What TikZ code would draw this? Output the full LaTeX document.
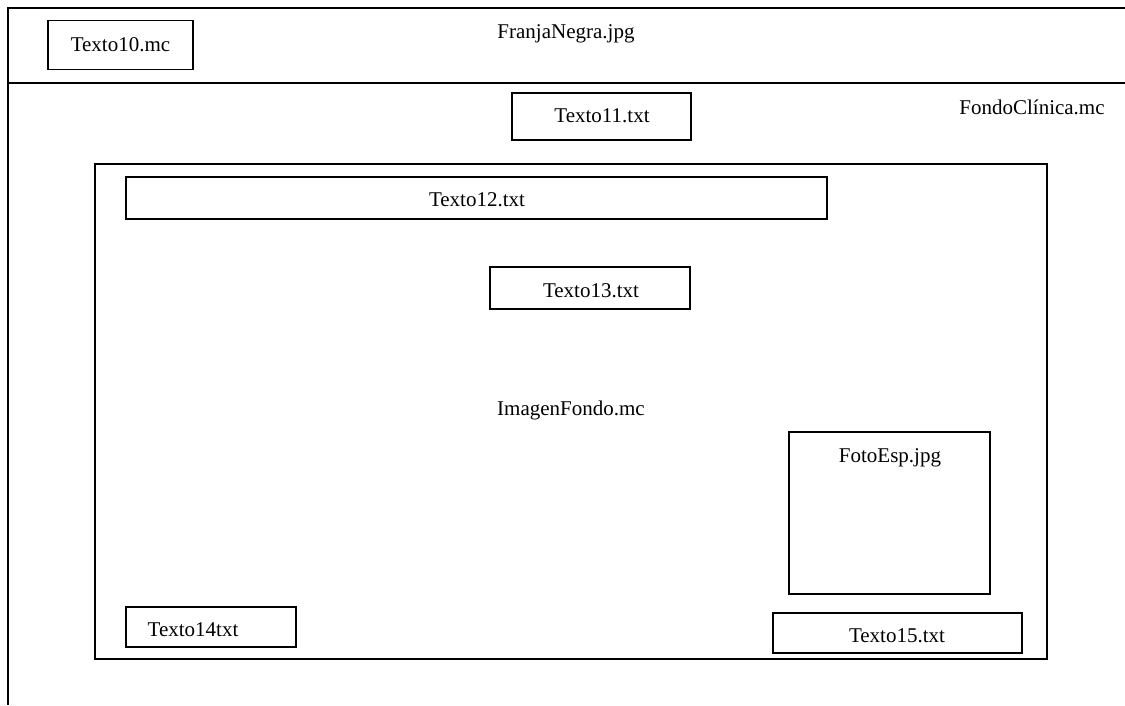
\documentclass[tikz,border=0pt]{standalone}
\usepackage{fontspec}
\setmainfont{Liberation Serif}
\begin{document}
\begin{tikzpicture}[x=1pt,y=-1pt,
  frame/.style={line width=1.6pt,black},
  box/.style={draw,line width=1.6pt,rectangle,inner sep=0pt},
  lbl/.style={inner sep=0pt,font=\fontsize{21}{25}\selectfont}]
\useasboundingbox (0,0) rectangle (1125,705);
\fill[white] (0,0) rectangle (1125,705);

% page frame: top band and left edge
\coordinate (tl) at (8,8);
\coordinate (tr) at (1125,8);
\coordinate (bl) at (8,705);
\coordinate (ml) at (8,83);
\coordinate (mr) at (1125,83);
\draw[frame] (tr) -- (tl) -- (bl);
\draw[frame] (ml) -- (mr);

% header band
\node[box,minimum width=145pt,minimum height=49pt] (t10) at (120.5,45) {};
\node[lbl] (t10l) at (120.5,45) {Texto10.mc};
\node[lbl] (franja) at (566,34) {FranjaNegra.jpg};

% clinic background
\node[lbl] (fondo) at (1032,107) {FondoClínica.mc};
\node[box,minimum width=179pt,minimum height=47pt] (t11) at (601.5,116.5) {};
\node[lbl] (t11l) at (602,116) {Texto11.txt};

% image panel
\node[box,minimum width=952pt,minimum height=495pt] (img) at (571,411.5) {};
\node[lbl] (imgl) at (571,410) {ImagenFondo.mc};

\node[box,minimum width=701pt,minimum height=42pt] (t12) at (476.5,198) {};
\node[lbl] (t12l) at (477,200) {Texto12.txt};

\node[box,minimum width=200pt,minimum height=42pt] (t13) at (590,288) {};
\node[lbl] (t13l) at (591,291) {Texto13.txt};

\node[box,minimum width=201pt,minimum height=162pt] (foto) at (889.5,513) {};
\node[lbl] (fotol) at (890,458) {FotoEsp.jpg};

\node[box,minimum width=170pt,minimum height=40pt] (t14) at (211,627) {};
\node[lbl] (t14l) at (193,630) {Texto14txt};

\node[box,minimum width=249pt,minimum height=40pt] (t15) at (897.5,633) {};
\node[lbl] (t15l) at (897,636) {Texto15.txt};
\end{tikzpicture}
\end{document}
